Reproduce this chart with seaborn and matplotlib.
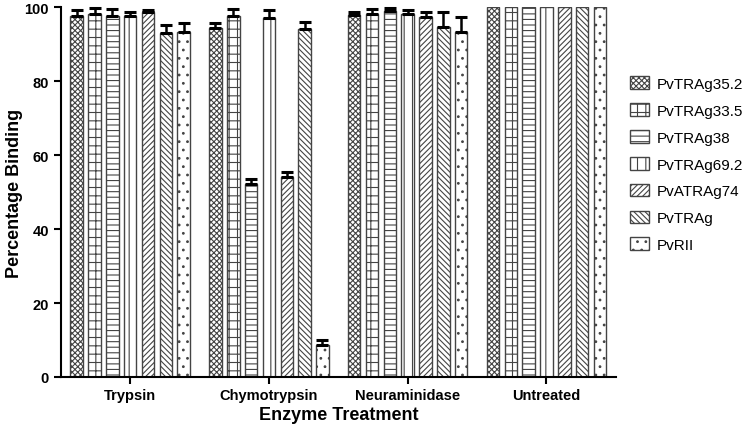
import pandas as pd
import numpy as np
import seaborn as sns
import matplotlib.pyplot as plt
import matplotlib.patches as mpatches

treatments = ['Trypsin', 'Chymotrypsin', 'Neuraminidase', 'Untreated']
proteins = ['PvTRAg35.2', 'PvTRAg33.5', 'PvTRAg38', 'PvTRAg69.2', 'PvATRAg74', 'PvTRAg', 'PvRII']

# mean binding per protein, one list per treatment
trypsin = [97.6, 98.1, 97.7, 97.5, 98.8, 92.9, 93.3]
chymotrypsin = [94.5, 97.5, 52.3, 97.2, 54.2, 94.2, 8.6]
neuraminidase = [97.8, 98.1, 99.0, 98.1, 97.4, 94.7, 93.4]
untreated = [100, 100, 100, 100, 100, 100, 100]

# upper error (SEM)
trypsin_err = [1.7, 1.6, 1.8, 1.2, 0.5, 2.3, 2.4]
chymotrypsin_err = [1.3, 2.1, 1.2, 2.1, 1.3, 1.8, 1.4]
neuraminidase_err = [0.9, 1.4, 0.9, 1.2, 1.2, 4.1, 4.0]
untreated_err = [0, 0, 0, 0, 0, 0, 0]

hatches = ['xxxxxx', '++', '---', '||', '//////', '\\\\\\\\\\\\', '..']

rows = []
for t, vals, errs in zip(treatments,
                         [trypsin, chymotrypsin, neuraminidase, untreated],
                         [trypsin_err, chymotrypsin_err, neuraminidase_err, untreated_err]):
    for p, v, e in zip(proteins, vals, errs):
        rows.append({'treatment': t, 'protein': p, 'binding': v, 'err': e})
df = pd.DataFrame(rows)

sns.set_style('ticks')
plt.rcParams['font.family'] = ['Liberation Sans', 'DejaVu Sans']
plt.rcParams['hatch.linewidth'] = 0.8
for k in ['text.color', 'axes.labelcolor', 'xtick.color', 'ytick.color', 'axes.edgecolor']:
    plt.rcParams[k] = 'black'

fig = plt.figure(figsize=(7.42, 4.31), dpi=100)
ax = fig.add_axes([0.082, 0.123, 0.748, 0.858])

sns.barplot(data=df, x='treatment', y='binding', hue='protein', order=treatments,
            hue_order=proteins, palette=['white'] * 7, edgecolor='#444444',
            linewidth=1.0, width=0.9, gap=0.3, errorbar=None, legend=False, ax=ax)

for cont, h, p in zip(ax.containers, hatches, proteins):
    sub = df[df.protein == p].set_index('treatment').loc[treatments]
    xs = []
    for bar in cont:
        bar.set_hatch(h)
        xs.append(bar.get_x() + bar.get_width() / 2)
    errs = sub['err'].values
    mask = errs > 0
    eb = ax.errorbar(np.array(xs)[mask], sub['binding'].values[mask],
                     yerr=[np.zeros(mask.sum()), errs[mask]], fmt='none',
                     ecolor='black', elinewidth=1.8, capsize=4, capthick=2.2)
    for art in eb.lines[1] + eb.lines[2]:
        art.set_clip_on(False)

ax.set_ylim(0, 100)
ax.set_xlim(-0.5, 3.5)
ax.set_yticks([0, 20, 40, 60, 80, 100])
ax.set_xlabel('Enzyme Treatment', fontsize=13, fontweight='bold', labelpad=3)
ax.set_ylabel('Percentage Binding', fontsize=13, fontweight='bold', labelpad=1)
for lab in ax.get_xticklabels() + ax.get_yticklabels():
    lab.set_fontweight('bold')
    lab.set_fontsize(10.5)
ax.tick_params(axis='both', width=1.5, length=5)
ax.tick_params(axis='x', pad=3)
for s in ['left', 'bottom']:
    ax.spines[s].set_linewidth(1.5)
sns.despine(ax=ax)

handles = [mpatches.Patch(facecolor='white', edgecolor='#444444', hatch=h, label=p)
           for h, p in zip(hatches, proteins)]
ax.legend(handles=handles, loc='upper left', bbox_to_anchor=(1.0, 0.85), frameon=False,
          fontsize=11, handlelength=1.3, handleheight=0.9, labelspacing=0.8,
          handletextpad=0.5)

fig.savefig('out.png', dpi=100)
